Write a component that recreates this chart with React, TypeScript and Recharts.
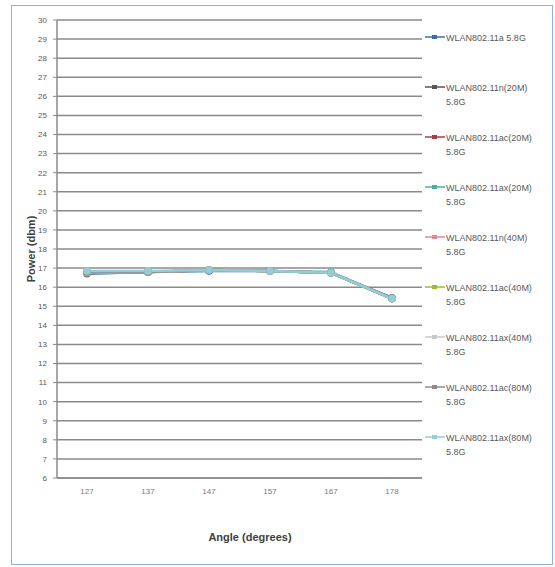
import React from "react";
import { LineChart, Line, XAxis, YAxis, CartesianGrid, Legend } from "recharts";

const angles = ["127", "137", "147", "157", "167", "178"];
const yTicks = [6, 7, 8, 9, 10, 11, 12, 13, 14, 15, 16, 17, 18, 19, 20, 21, 22, 23, 24, 25, 26, 27, 28, 29, 30];

const s11a = [16.7, 16.8, 16.85, 16.85, 16.75, 15.45];
const s11n20 = [16.75, 16.8, 16.9, 16.85, 16.75, 15.4];
const s11ac20 = [16.75, 16.8, 16.9, 16.85, 16.75, 15.4];
const s11ax20 = [16.8, 16.8, 16.9, 16.85, 16.8, 15.4];
const s11n40 = [16.75, 16.8, 16.9, 16.85, 16.75, 15.4];
const s11ac40 = [16.75, 16.8, 16.9, 16.85, 16.75, 15.4];
const s11ax40 = [16.8, 16.8, 16.9, 16.85, 16.75, 15.4];
const s11ac80 = [16.8, 16.8, 16.9, 16.85, 16.75, 15.4];
const s11ax80 = [16.85, 16.85, 16.9, 16.85, 16.75, 15.4];

const seriesNames = [
  "WLAN802.11a 5.8G",
  "WLAN802.11n(20M) 5.8G",
  "WLAN802.11ac(20M) 5.8G",
  "WLAN802.11ax(20M) 5.8G",
  "WLAN802.11n(40M) 5.8G",
  "WLAN802.11ac(40M) 5.8G",
  "WLAN802.11ax(40M) 5.8G",
  "WLAN802.11ac(80M) 5.8G",
  "WLAN802.11ax(80M) 5.8G",
];
const seriesValues = [s11a, s11n20, s11ac20, s11ax20, s11n40, s11ac40, s11ax40, s11ac80, s11ax80];
const seriesColors = ["#3F6DA8", "#555555", "#B03A48", "#4AAFB0", "#D98A94", "#9BBB3A", "#C8C8C8", "#8C8C8C", "#93CDD6"];

const data = angles.map((a, i) => {
  const row: any = { angle: a };
  seriesValues.forEach((s, k) => {
    row["s" + k] = s[i];
  });
  return row;
});

const font = "'Liberation Sans', Arial, sans-serif";

const renderLegend = () => (
  <div style={{ fontFamily: font, fontSize: 9, color: "#595959" }}>
    {seriesNames.map((n, k) => {
      const parts = n.split(" ");
      const first = k === 0 ? n : parts[0];
      const second = k === 0 ? null : parts[1];
      return (
        <div key={k} style={{ height: 50, position: "relative" }}>
          <svg width={20} height={10} style={{ position: "absolute", left: 0, top: 0 }}>
            <line x1={0} y1={5} x2={20} y2={5} stroke={seriesColors[k]} strokeWidth={1.5} />
            <rect x={7} y={3} width={5} height={4} fill={seriesColors[k]} />
          </svg>
          <div style={{ position: "absolute", left: 21, top: -1, lineHeight: "14px", whiteSpace: "nowrap" }}>
            {first}
            {second && <div>{second}</div>}
          </div>
        </div>
      );
    })}
  </div>
);

export default function App() {
  return (
    <div style={{ position: "absolute", left: 0, top: 0, width: 555, height: 567, background: "#fff" }}>
      <div
        style={{
          position: "absolute",
          left: 11,
          top: 5,
          width: 540,
          height: 558,
          border: "1px solid #8FB0DA",
          boxSizing: "content-box",
        }}
      />
      <LineChart
        width={555}
        height={567}
        data={data}
        margin={{ top: 20, right: 5, left: 27, bottom: 24 }}
        style={{ position: "absolute", left: 0, top: 0 }}
      >
        <CartesianGrid vertical={false} stroke="#8A8A8A" strokeWidth={1.5} />
        <XAxis
          dataKey="angle"
          height={65}
          tickSize={0}
          tickMargin={10}
          padding={{ left: 30, right: 30 }}
          axisLine={{ stroke: "#8A8A8A", strokeWidth: 1.5 }}
          tick={{ fontSize: 8, fill: "#7a7a7a", fontFamily: font }}
          interval={0}
        />
        <YAxis
          width={30}
          domain={[6, 30]}
          ticks={yTicks}
          interval={0}
          tickSize={4}
          tickMargin={6}
          axisLine={{ stroke: "#8A8A8A", strokeWidth: 1.5 }}
          tickLine={{ stroke: "#8A8A8A" }}
          tick={{ fontSize: 8, fill: "#595959", fontFamily: font }}
        />
        <Legend
          layout="vertical"
          align="right"
          verticalAlign="top"
          content={renderLegend}
          wrapperStyle={{ left: 425, top: 32, width: 128 }}
        />
        {seriesNames.map((n, k) => (
          <Line
            key={k}
            name={n}
            dataKey={"s" + k}
            stroke={seriesColors[k]}
            strokeWidth={2.5}
            dot={{ r: 2.5, fill: seriesColors[k], stroke: seriesColors[k] }}
            isAnimationActive={false}
          />
        ))}
      </LineChart>
      <div
        style={{
          position: "absolute",
          left: 31,
          top: 249,
          transform: "translate(-50%, -50%) rotate(-90deg)",
          fontFamily: font,
          fontSize: 11,
          fontWeight: "bold",
          color: "#404040",
          whiteSpace: "nowrap",
        }}
      >
        Power (dbm)
      </div>
      <div
        style={{
          position: "absolute",
          left: 250,
          top: 537,
          transform: "translate(-50%, -50%)",
          fontFamily: font,
          fontSize: 11,
          fontWeight: "bold",
          color: "#404040",
          whiteSpace: "nowrap",
        }}
      >
        Angle (degrees)
      </div>
    </div>
  );
}
